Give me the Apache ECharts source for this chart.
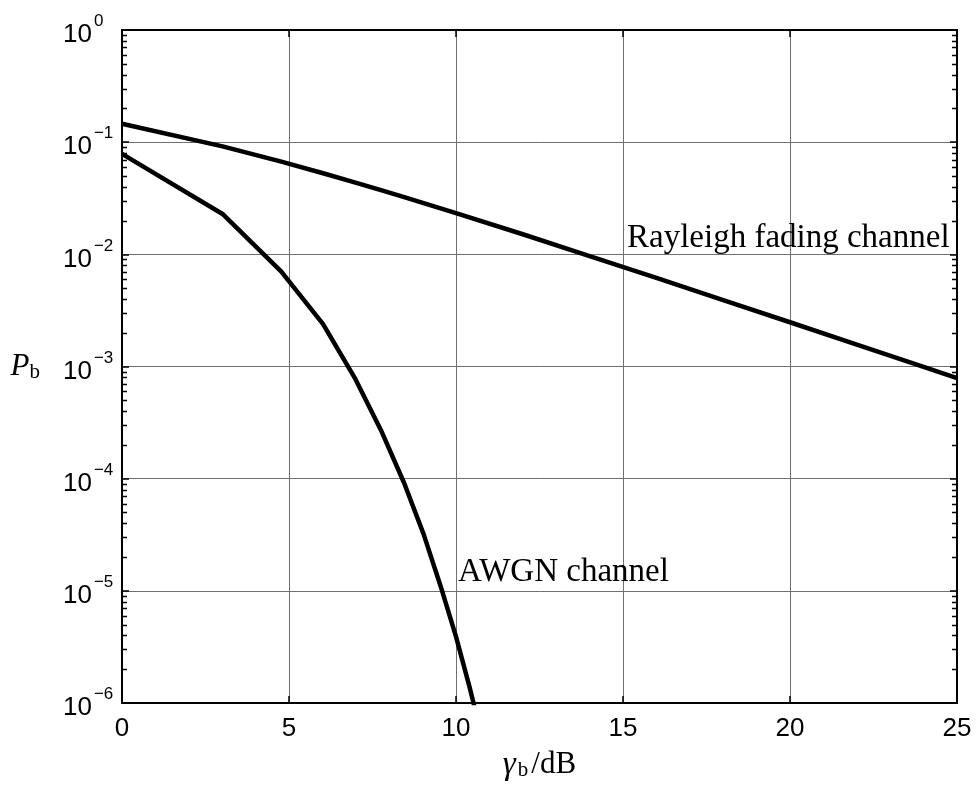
<html>
<head>
<meta charset="utf-8">
<title>Pb vs gamma_b</title>
<script src="https://cdn.jsdelivr.net/npm/echarts@6/dist/echarts.min.js"></script>
<style>
    body { margin: 0; background: white; }
    #main { width: 976px; height: 787px; }
</style>
</head>
<body>
<div id="main"></div>
<script>
// values, x in dB
var AWGN_X = [0, 3.01, 4.77, 6.02, 6.99, 7.78, 8.45, 9.03, 9.54, 10, 10.41, 10.79]
var AWGN_Y = [7.86e-2, 2.29e-2, 7.0e-3, 2.39e-3, 7.7e-4, 2.6e-4, 9.1e-5, 3.2e-5, 1.1e-5, 3.9e-6, 1.37e-6, 4.8e-7]
var RAY_X = [0, 3.01, 4.77, 6.02, 6.99, 7.78, 8.45, 9.03, 10, 12, 14, 16, 18, 20, 22, 24, 25]
var RAY_Y = [0.146, 0.0918, 0.067, 0.0528, 0.0436, 0.0371, 0.0323, 0.0286, 0.0233, 0.0151, 0.00966,
    0.00616, 0.00391, 0.00248, 0.00157, 0.000992, 0.000789]
var X_TICKS = [0, 5, 10, 15, 20, 25]
var Y_DECADES = [-6, -5, -4, -3, -2, -1, 0]

function zip(xs, ys) {
    return xs.map((x, i) => [x, ys[i]])
}

var SANS = '"Liberation Sans", Arial, sans-serif'
var SERIF = '"Liberation Serif", "Times New Roman", serif'
var GRID_COLOR = '#707070'

var chart = echarts.init(document.getElementById('main'))

var yLabel = {
    show: true,
    align: 'left',
    margin: 59,
    padding: [10, 0, 0, 0],
    formatter: v => `{b|10}{s|${Math.round(Math.log10(v)).toString().replace('-', '\u2212')}}`,
    rich: {
        b: { fontSize: 26, fontFamily: SANS, color: '#000', lineHeight: 44 },
        s: { fontSize: 17, fontFamily: SANS, color: '#000', lineHeight: 10, verticalAlign: 'top', padding: [0, 0, 0, 2] },
    },
}

var option = {
    animation: false,
    backgroundColor: '#fff',
    grid: { left: 122, right: 19, top: 30, bottom: 84, containLabel: false },
    xAxis: [{
        type: 'value', min: 0, max: 25, interval: 5,
        axisLine: { show: true, onZero: false, lineStyle: { color: '#000', width: 2 } },
        axisTick: { show: true, inside: true, length: 7, lineStyle: { color: '#000', width: 1.5 } },
        axisLabel: { fontSize: 26, fontFamily: SANS, color: '#000', margin: 13 },
        splitLine: { show: true, lineStyle: { color: GRID_COLOR, width: 1 } },
        name: '{g|γ}{sub|b}{r|/dB}',
        nameLocation: 'middle',
        nameGap: 46,
        nameTextStyle: {
            rich: {
                g: { fontSize: 33, fontFamily: SERIF, fontStyle: 'italic', color: '#000', lineHeight: 32 },
                sub: { fontSize: 21, fontFamily: SERIF, color: '#000', lineHeight: 14, verticalAlign: 'bottom', padding: [0, 3, 0, 2] },
                r: { fontSize: 31, fontFamily: SERIF, color: '#000', lineHeight: 32 },
            },
        },
    }, {
        type: 'value', min: 0, max: 25, interval: 5, position: 'top',
        axisLine: { show: true, onZero: false, lineStyle: { color: '#000', width: 2 } },
        axisTick: { show: true, inside: true, length: 7, lineStyle: { color: '#000', width: 1.5 } },
        axisLabel: { show: false },
        splitLine: { show: false },
    }],
    yAxis: [{
        type: 'log', logBase: 10, min: 1e-6, max: 1, interval: 1,
        axisLine: { show: true, onZero: false, lineStyle: { color: '#000', width: 2 } },
        axisTick: { show: true, inside: true, length: 7, lineStyle: { color: '#000', width: 1.5 } },
        axisLabel: yLabel,
        splitLine: { show: true, lineStyle: { color: GRID_COLOR, width: 1 } },
        name: '{p|P}{sub|b}',
        nameLocation: 'middle',
        nameRotate: 0,
        nameGap: 82,
        nameTextStyle: {
            rich: {
                p: { fontSize: 31, fontFamily: SERIF, fontStyle: 'italic', color: '#000', lineHeight: 32 },
                sub: { fontSize: 21, fontFamily: SERIF, color: '#000', lineHeight: 14, verticalAlign: 'bottom' },
            },
        },
    }, {
        type: 'log', logBase: 10, min: 1e-6, max: 1, interval: 1, position: 'right',
        axisLine: { show: true, onZero: false, lineStyle: { color: '#000', width: 2 } },
        axisTick: { show: true, inside: true, length: 7, lineStyle: { color: '#000', width: 1.5 } },
        axisLabel: { show: false },
        splitLine: { show: false },
    }],
    series: [{
        name: 'Rayleigh fading channel',
        type: 'line',
        data: zip(RAY_X, RAY_Y),
        showSymbol: false,
        symbol: 'none',
        clip: true,
        lineStyle: { color: '#000', width: 4.5 },
    }, {
        name: 'AWGN channel',
        type: 'line',
        data: zip(AWGN_X, AWGN_Y),
        showSymbol: false,
        symbol: 'none',
        clip: true,
        lineStyle: { color: '#000', width: 4.5 },
    }],
}
chart.setOption(option)

// log minor ticks (2..9 x 10^k) on left and right, plus curve labels
function addExtras() {
    var els = []
    var left = chart.convertToPixel({ xAxisIndex: 0 }, 0)
    var right = chart.convertToPixel({ xAxisIndex: 0 }, 25)
    for (var k = -6; k < 0; k++) {
        for (var m = 2; m <= 9; m++) {
            var py = Math.round(chart.convertToPixel({ yAxisIndex: 0 }, m * Math.pow(10, k))) + 0.5
            els.push({ type: 'line', shape: { x1: left, y1: py, x2: left + 5, y2: py }, style: { stroke: '#000', lineWidth: 1.5 }, z: 10 })
            els.push({ type: 'line', shape: { x1: right - 5, y1: py, x2: right, y2: py }, style: { stroke: '#000', lineWidth: 1.5 }, z: 10 })
        }
    }
    var notes = [
        { text: 'Rayleigh fading channel', at: [15.12, 1.0e-2] },
        { text: 'AWGN channel', at: [10.06, 1.04e-5] },
    ]
    notes.forEach(n => {
        var p = chart.convertToPixel({ xAxisIndex: 0, yAxisIndex: 0 }, n.at)
        els.push({
            type: 'text', x: p[0], y: p[1], z: 20,
            style: { text: n.text, font: '33px ' + SERIF, fill: '#000', align: 'left', verticalAlign: 'bottom' },
        })
    })
    chart.setOption({ graphic: els })
}
addExtras()
</script>
</body>
</html>
